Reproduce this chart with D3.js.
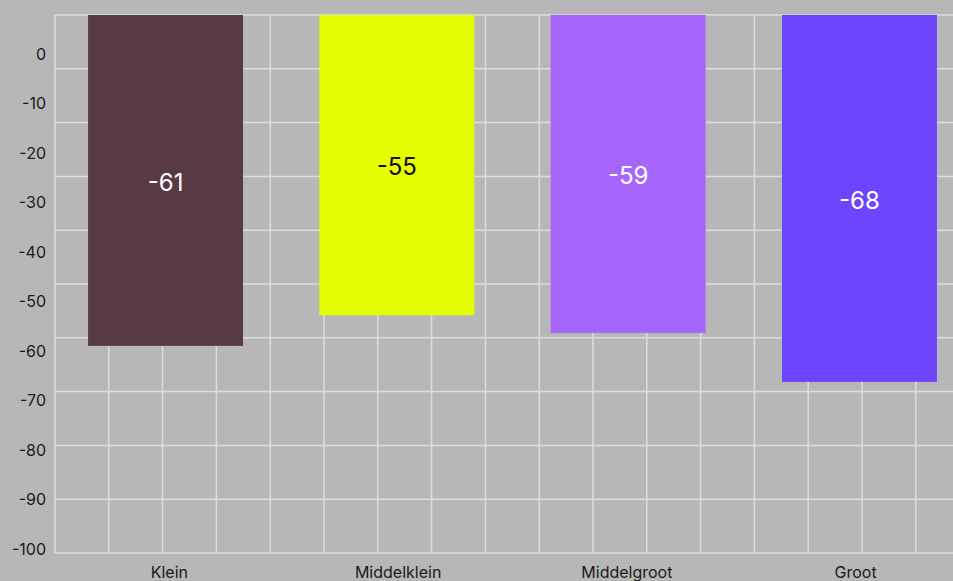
<!DOCTYPE html>
<html>
<head>
<meta charset="utf-8">
<script src="https://cdn.jsdelivr.net/npm/d3@7"></script>
<style>
  html, body { margin: 0; padding: 0; background: #b7b7b7; }
  svg { display: block; }
  text { font-family: Inter, "Liberation Sans", sans-serif; }
</style>
</head>
<body>
<svg id="chart" width="953" height="581"></svg>
<script>
const categories = ["Klein", "Middelklein", "Middelgroot", "Groot"];
const values = [-61.5, -55.8, -59.1, -68.2];
const colors = ["#573a43", "#e6ff00", "#a666fc", "#6e44ff"];
const labelColors = ["#ffffff", "#111111", "#ffffff", "#ffffff"];
const yTicks = [0, -10, -20, -30, -40, -50, -60, -70, -80, -90, -100];

const W = 953, H = 581;
const mLeft = 55, mTop = 15, mBottom = 553, mRight = 970;

const svg = d3.select("#chart");
svg.append("rect").attr("width", W).attr("height", H).attr("fill", "#b7b7b7");

// bar scale (grid) and tick label scale
const y = d3.scaleLinear().domain([0, -100]).range([mTop, mBottom]);
const yLab = d3.scaleLinear().domain([0, -100]).range([54, 549]);
const xBar = d3.scaleBand().domain(categories).range([mLeft, mRight]).paddingInner(0.33).paddingOuter(0.143);
const xLab = d3.scaleBand().domain(categories).range([mLeft, mRight]).padding(0);

const gridColor = "#dddddd";
const step = y(-10) - y(0);
const g = svg.append("g");

// horizontal grid lines
g.selectAll("line.h").data(yTicks).enter().append("line")
  .attr("x1", mLeft).attr("x2", W)
  .attr("y1", d => y(d)).attr("y2", d => y(d))
  .attr("stroke", gridColor).attr("stroke-width", 1.5);

// vertical grid lines (square grid)
const vx = d3.range(mLeft, W, step);
g.selectAll("line.v").data(vx).enter().append("line")
  .attr("x1", d => d).attr("x2", d => d)
  .attr("y1", mTop).attr("y2", mBottom)
  .attr("stroke", gridColor).attr("stroke-width", 1.5);

// bars
svg.selectAll("rect.bar").data(values).enter().append("rect")
  .attr("class", "bar")
  .attr("x", (d, i) => xBar(categories[i]))
  .attr("width", xBar.bandwidth())
  .attr("y", y(0))
  .attr("height", d => y(d) - y(0))
  .attr("fill", (d, i) => colors[i]);

// value labels
svg.selectAll("text.val").data(values).enter().append("text")
  .attr("x", (d, i) => xBar(categories[i]) + xBar.bandwidth() / 2)
  .attr("y", d => (y(0) + y(d)) / 2)
  .attr("dy", "0.42em")
  .attr("text-anchor", "middle")
  .attr("font-size", 24)
  .attr("fill", (d, i) => labelColors[i])
  .text(d => String(Math.trunc(d)));

// y tick labels
svg.selectAll("text.yt").data(yTicks).enter().append("text")
  .attr("x", 46)
  .attr("y", d => yLab(d))
  .attr("dy", "0.35em")
  .attr("text-anchor", "end")
  .attr("font-size", 16)
  .attr("fill", "#1a1a1a")
  .text(d => d);

// x labels
svg.selectAll("text.xt").data(categories).enter().append("text")
  .attr("x", d => xLab(d) + xLab.bandwidth() / 2)
  .attr("y", 578)
  .attr("text-anchor", "middle")
  .attr("font-size", 16)
  .attr("fill", "#1a1a1a")
  .text(d => d);
</script>
</body>
</html>
